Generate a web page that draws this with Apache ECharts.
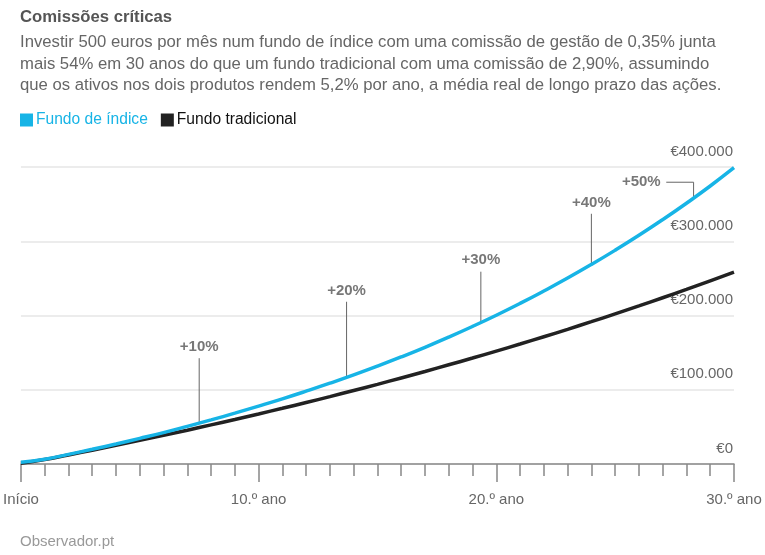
<!DOCTYPE html>
<html>
<head>
<meta charset="utf-8">
<script src="https://cdn.jsdelivr.net/npm/echarts@6/dist/echarts.min.js"></script>
<style>html,body{margin:0;padding:0;background:#fff}#c{width:765px;height:555px}</style>
</head>
<body>
<div id="c"></div>
<script>
var years = [0,1,2,3,4,5,6,7,8,9,10,11,12,13,14,15,16,17,18,19,20,21,22,23,24,25,26,27,28,29,30];
var indexFund = [2500,6500,13000,19800,27000,34500,42300,50700,59400,68500,78000,87800,98100,108800,120000,131800,144200,157200,170900,185300,200400,216300,233000,250400,268700,287900,308000,329100,351200,374400,399000];
var traditionalFund = [1000,6000,12200,18600,25100,31800,38600,45500,52700,60000,67400,75000,82800,90800,99000,107300,115900,124600,133600,142700,152100,161600,171400,181400,191700,202200,212900,223900,235100,246600,258300];
var xTickLabels = {0:'Início',10:'10.º ano',20:'20.º ano',30:'30.º ano'};
var annX = [7.5, 13.7, 19.35, 24.0, 28.3];
var annFrom = [55500, 116800, 191000, 269000, 357000];
var annTo = [142500, 218500, 259000, 337000, 379500];
var annLabels = ['+10%','+20%','+30%','+40%','+50%'];
var annLabelX = [7.5, 13.7, 19.35, 24.0, 26.1];
var annLabelY = [157500, 233500, 275000, 351500, 379500];
var ann50ElbowX = 27.15;

var FONT = '"Liberation Sans", Arial, Helvetica, sans-serif';
var chart = echarts.init(document.getElementById('c'), null, {renderer:'canvas'});

var series = [
  {name:'Fundo tradicional', type:'line', showSymbol:false, symbol:'none', smooth:true,
   lineStyle:{color:'#222222', width:3.5}, itemStyle:{color:'#222222'}, z:3,
   data: years.map(function(y,i){return [y, traditionalFund[i]];})},
  {name:'Fundo de índice', type:'line', showSymbol:false, symbol:'none', smooth:true,
   lineStyle:{color:'#17b4e6', width:3.5}, itemStyle:{color:'#17b4e6'}, z:4,
   data: years.map(function(y,i){return [y, indexFund[i]];})}
];
annX.forEach(function(x,i){
  var pts = [[x, annFrom[i]],[x, annTo[i]]];
  if (i === 4) pts.push([ann50ElbowX, annTo[i]]);
  series.push({type:'line', silent:true, symbol:'none', showSymbol:false, z:2,
    lineStyle:{color:'#666', width:1}, data: pts, legendHoverLink:false});
});
series.push({type:'scatter', silent:true, symbolSize:0, z:5,
  data: annLabels.map(function(l,i){return [annLabelX[i], annLabelY[i], l];}),
  label:{show:true, position:'inside', formatter:function(p){return p.value[2];},
    color:'#555', fontFamily:FONT, fontSize:15, fontWeight:'bold'}});

chart.setOption({
  animation:false,
  backgroundColor:'#fff',
  graphic:[
    {type:'text', left:20, top:9, style:{text:'Comissões críticas', font:'bold 16.7px '+FONT, fill:'#555'}},
    {type:'text', left:20, top:32, style:{text:'Investir 500 euros por mês num fundo de índice com uma comissão de gestão de 0,35% junta\nmais 54% em 30 anos do que um fundo tradicional com uma comissão de 2,90%, assumindo\nque os ativos nos dois produtos rendem 5,2% por ano, a média real de longo prazo das ações.', font:'16.7px '+FONT, fill:'#666', lineHeight:21.5}},
    {type:'text', left:20, top:534, style:{text:'Observador.pt', font:'15px '+FONT, fill:'#999'}}
  ],
  legend:{left:20, top:112, padding:0, itemWidth:13, itemHeight:13, itemGap:13, icon:'rect',
    textStyle:{fontFamily:FONT, fontSize:15.6, padding:[0,0,0,-2]},
    data:[{name:'Fundo de índice', textStyle:{color:'#17b4e6'}},{name:'Fundo tradicional', textStyle:{color:'#111'}}]},
  grid:{left:20, right:31, top:167, bottom:91, containLabel:false},
  xAxis:{type:'value', min:0, max:30, interval:10,
    axisLine:{show:true, lineStyle:{color:'#888', width:1.5}},
    axisTick:{show:true, length:18, lineStyle:{color:'#888', width:1.5}},
    minorTick:{show:true, splitNumber:10, length:12, lineStyle:{color:'#888', width:1.5}},
    splitLine:{show:false}, minorSplitLine:{show:false},
    axisLabel:{margin:28, color:'#666', fontFamily:FONT, fontSize:15, formatter:function(v){return xTickLabels[v]||'';}}},
  yAxis:{type:'value', position:'right', min:0, max:400000, interval:100000,
    axisLine:{show:false}, axisTick:{show:false},
    splitLine:{show:true, lineStyle:{color:'#e6e6e6', width:1.5}},
    axisLabel:{inside:true, margin:1, color:'#666', fontFamily:FONT, fontSize:15, verticalAlign:'bottom', padding:[0,0,8,0],
      formatter:function(v){return '€'+String(v).replace(/\B(?=(\d{3})+(?!\d))/g,'.');}}},
  series: series
});
</script>
</body>
</html>
